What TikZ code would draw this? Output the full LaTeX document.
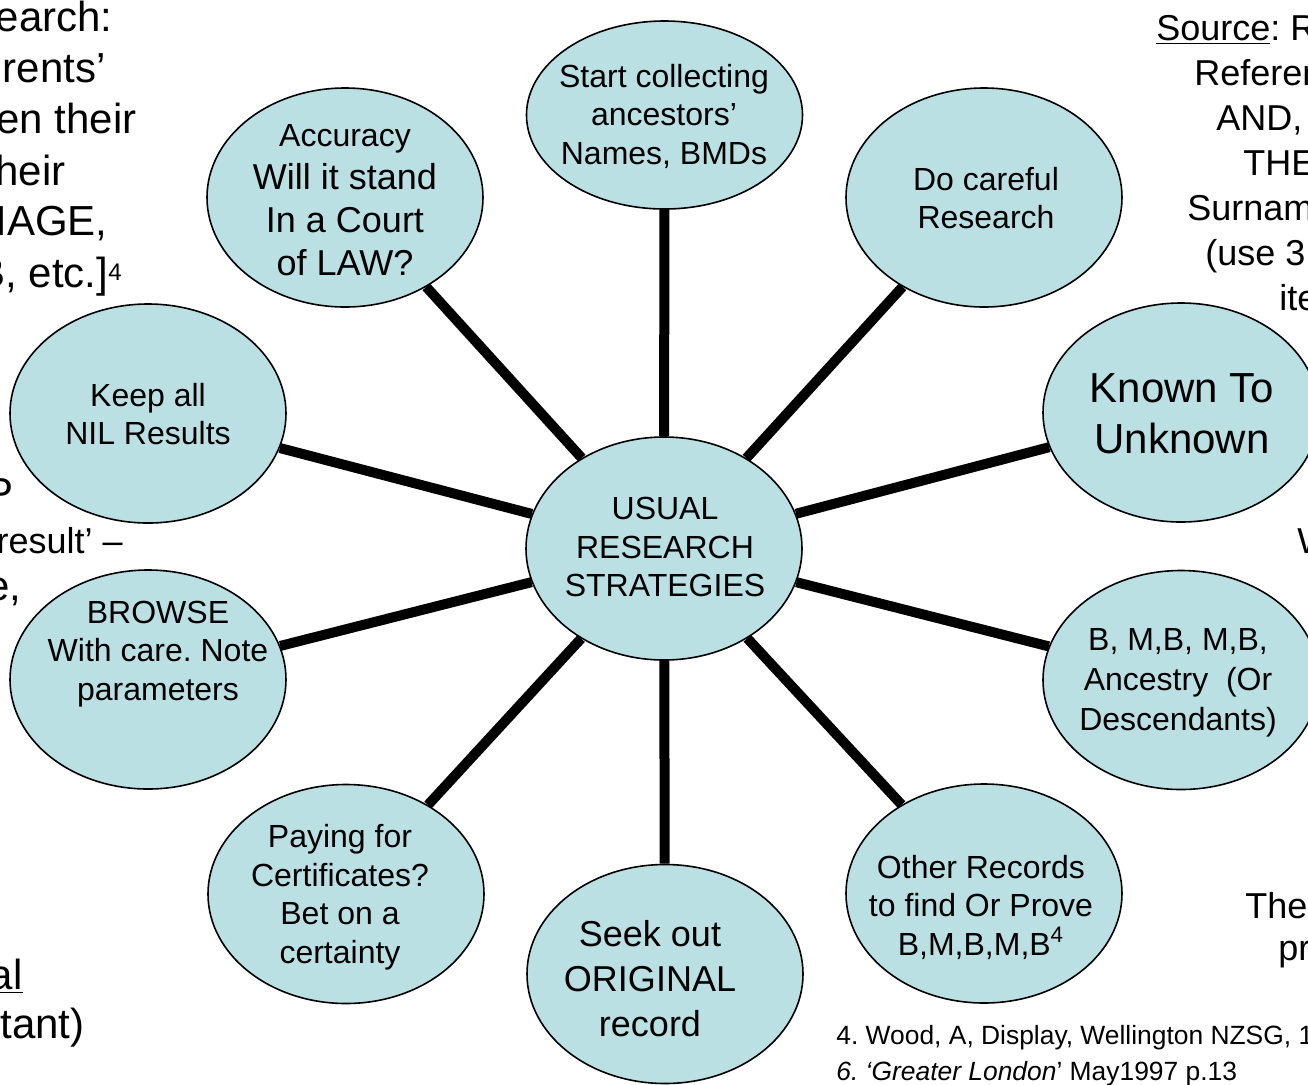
\documentclass[tikz,border=0pt]{standalone}
\usepackage{fontspec}
\setmainfont{Liberation Sans}
\usetikzlibrary{shapes.geometric}
\definecolor{bubble}{RGB}{187,224,227}
\frenchspacing
\newcommand{\smallsup}[1]{\raisebox{3.5pt}{\fontsize{12}{12}\selectfont #1}}
\begin{document}
\frenchspacing
\begin{tikzpicture}[x=0.5pt,y=-0.5pt,
  bub/.style={ellipse, draw=black, line width=0.8pt, fill=bubble,
    minimum width=138pt, minimum height=109.5pt, inner sep=0pt},
  lbl/.style={align=center, inner sep=0pt, font=\fontsize{16}{19.25}\selectfont},
  spoke/.style={line width=5pt},
  side/.style={inner sep=0pt, anchor=base east, font=\fontsize{21}{25}\selectfont},
  rside/.style={inner sep=0pt, anchor=base west, font=\fontsize{18}{22}\selectfont},
  foot/.style={inner sep=0pt, anchor=base west, font=\fontsize{13.2}{16}\selectfont}]
\useasboundingbox (0,0) rectangle (1308,1084);
\clip (0,0) rectangle (1308,1084);

% bubbles
\node[bub, minimum height=111.5pt] (c) at (664,548.5) {};
\node[bub, minimum height=94pt] (n1) at (664.5,115) {};
\node[bub] (n2) at (345,197.5) {};
\node[bub] (n3) at (984,197.5) {};
\node[bub] (n4) at (148,413.5) {};
\node[bub] (n5) at (1181,412.5) {};
\node[bub] (n6) at (148,679.5) {};
\node[bub] (n7) at (1181,680) {};
\node[bub] (n8) at (346,894) {};
\node[bub] (n9) at (665,974) {};
\node[bub] (n10) at (984,893.5) {};

% spokes
\foreach \n in {n1,n2,n3,n4,n5,n6,n7,n8,n9,n10}
  \draw[spoke] (c) -- (\n);

% bubble texts
\node[lbl] (tc) at (665,547) {USUAL\\RESEARCH\\STRATEGIES};
\node[lbl] (t1) at (664,116) {Start collecting\\ancestors’\\Names, BMDs};
\node[lbl, font=\fontsize{18}{21.5}\selectfont] (t2) at (345,200)
  {{\fontsize{16}{19}\selectfont Accuracy}\\Will it stand\\In a Court\\of LAW?};
\node[lbl] (t3) at (986,198) {Do careful\\Research};
\node[lbl] (t4) at (148,414) {Keep all\\NIL Results};
\node[lbl, font=\fontsize{21}{25.5}\selectfont] (t5) at (1182,414) {Known To\\Unknown};
\node[lbl] (t6) at (158,654) {BROWSE\\With care. Note\\parameters};
\node[lbl, font=\fontsize{16}{20}\selectfont] (t7) at (1178,683)
  {B, M,B, M,B,\\Ancestry\ \ (Or\\Descendants)};
\node[lbl] (t8) at (340,897) {Paying for\\Certificates?\\Bet on a\\certainty};
\node[lbl, font=\fontsize{18}{22.5}\selectfont] (t9) at (650,979) {Seek out\\ORIGINAL\\record};
\node[lbl] (t10) at (981,907) {Other Records\\to find Or Prove\\B,M,B,M,B\textsuperscript{4}};

% cut-off side texts (left)
\node[side] (l1) at (113,31) {earch:};
\node[side] (l2) at (106,82) {rents’};
\node[side] (l3) at (137,133) {en their};
\node[side] (l4) at (66,185) {heir};
\node[side] (l5) at (108,235) {IAGE,};
\node[side] (l6) at (122,287) {B, etc.]\smallsup{4}};
\node[side] (l7) at (14,507) {P};
\node[side, font=\fontsize{18}{22}\selectfont] (l8) at (123,553) {result’ –};
\node[side] (l9) at (22,600) {e,};
\node[side] (l10) at (23,989) {\underline{al}};
\node[side] (l11) at (85,1038) {xtant)};

% cut-off side texts (right)
\node[rside] (r1) at (1156,40) {\underline{Source}: R};
\node[rside] (r2) at (1194,85) {Referen};
\node[rside] (r3) at (1216,130) {AND,};
\node[rside] (r4) at (1243,175) {THE};
\node[rside] (r5) at (1187,220) {Surnam};
\node[rside] (r6) at (1205,265) {(use 3};
\node[rside] (r7) at (1279,310) {ite};
\node[rside] (r8) at (1297,553) {W};
\node[rside] (r9) at (1245,918) {The};
\node[rside] (r10) at (1278,960) {pr};

% footnotes
\node[foot] (f1) at (836,1044) {4. Wood, A, Display, Wellington NZSG, 1};
\node[foot] (f2) at (836,1080) {\textit{6. ‘Greater London}’ May1997 p.13};
\end{tikzpicture}
\end{document}
